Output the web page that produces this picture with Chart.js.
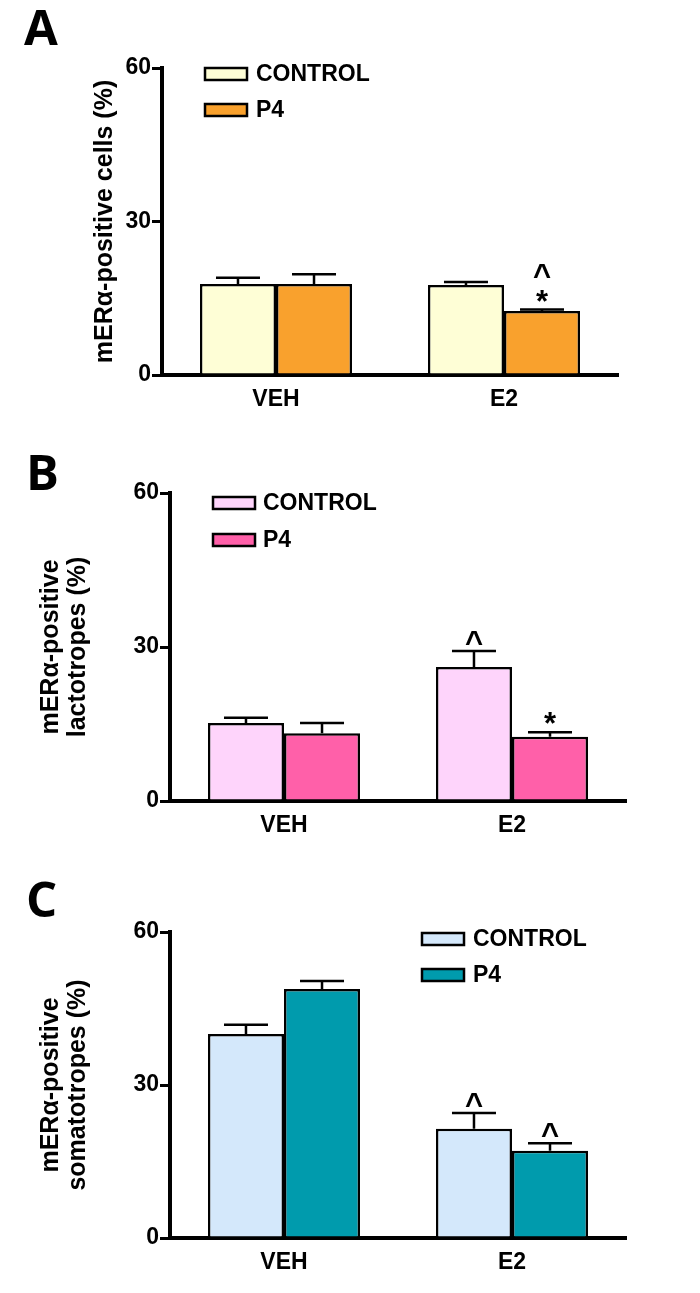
<!DOCTYPE html>
<html><head><meta charset="utf-8">
<script src="https://cdn.jsdelivr.net/npm/chart.js@4.4.1/dist/chart.umd.min.js"></script>
<style>
html,body{margin:0;padding:0;background:#fff;}
#wrap{position:relative;width:700px;height:1293px;background:#fff;}
canvas{position:absolute;left:0;}
</style></head><body>
<div id="wrap">
<canvas id="cA" width="700" height="430" style="top:0px"></canvas>
<canvas id="cB" width="700" height="440" style="top:430px"></canvas>
<canvas id="cC" width="700" height="423" style="top:870px"></canvas>
</div>
<script>
// ---- data ----
const categories = ['VEH', 'E2'];
const seriesLabels = ['CONTROL', 'P4'];
const yTicks = [0, 30, 60];

const controlA = [17.8, 17.6];
const controlErrA = [1.2, 0.6];
const p4A = [17.8, 12.5];
const p4ErrA = [1.9, 0.3];
const controlMarksA = [[], []];
const p4MarksA = [[], ['*', '^']];

const controlB = [15.2, 26.1];
const controlErrB = [1.0, 3.1];
const p4B = [13.2, 12.5];
const p4ErrB = [2.0, 0.9];
const controlMarksB = [[], ['^']];
const p4MarksB = [[], ['*']];

const controlC = [40.0, 21.4];
const controlErrC = [1.8, 3.1];
const p4C = [48.8, 17.1];
const p4ErrC = [1.6, 1.5];
const controlMarksC = [[], ['^']];
const p4MarksC = [[], ['^']];

const titleA = 'mERα-positive cells (%)';
const titleB = ['mERα-positive', 'lactotropes (%)'];
const titleC = ['mERα-positive', 'somatotropes (%)'];

Chart.defaults.font.family = '"Liberation Sans", Arial, sans-serif';
Chart.defaults.color = '#000';

const errorPlugin = {
  id: 'errs',
  afterDatasetsDraw(chart) {
    const ctx = chart.ctx;
    const y = chart.scales.y;
    chart.data.datasets.forEach((ds, i) => {
      const meta = chart.getDatasetMeta(i);
      meta.data.forEach((el, j) => {
        const top = y.getPixelForValue(ds.data[j]);
        const et = y.getPixelForValue(ds.data[j] + ds.errors[j]);
        ctx.save();
        ctx.strokeStyle = '#000';
        ctx.lineWidth = 2.5;
        ctx.beginPath();
        ctx.moveTo(el.x, top);
        ctx.lineTo(el.x, et);
        ctx.moveTo(el.x - 22, et);
        ctx.lineTo(el.x + 22, et);
        ctx.stroke();
        ctx.fillStyle = '#000';
        ctx.font = 'bold 31px "Liberation Sans", Arial, sans-serif';
        ctx.textAlign = 'center';
        ctx.textBaseline = 'alphabetic';
        (ds.marks[j] || []).forEach((m, k) => {
          const c = et - 15 - k * 26;
          ctx.fillText(m, el.x, c + 17);
        });
        ctx.restore();
      });
    });
  }
};

const decorPlugin = {
  id: 'decor',
  afterDraw(chart, args, opts) {
    const ctx = chart.ctx;
    ctx.save();
    ctx.fillStyle = '#000';
    ctx.font = 'bold 49px "Open Sans", "Liberation Sans", sans-serif';
    ctx.textAlign = 'left';
    ctx.textBaseline = 'alphabetic';
    ctx.fillText(opts.letter, opts.letterX, opts.letterY);
    chart.data.datasets.forEach((ds, i) => {
      const bx = opts.legX, by = opts.legY + i * opts.legGap;
      ctx.fillStyle = ds.backgroundColor;
      ctx.fillRect(bx, by, 42, 12);
      ctx.strokeStyle = '#000';
      ctx.lineWidth = 2.5;
      ctx.strokeRect(bx, by, 42, 12);
      ctx.fillStyle = '#000';
      ctx.font = 'bold 23px "Liberation Sans", Arial, sans-serif';
      ctx.textBaseline = 'middle';
      ctx.fillText(ds.label, opts.legTextX, by + 7);
    });
    ctx.restore();
  }
};

function makePanel(id, ctrl, ctrlErr, ctrlMarks, p4, p4Err, p4Marks, colors, title, titlePad, geo, decor) {
  const cv = document.getElementById(id);
  const W = cv.width, H = cv.height, xH = 40;
  new Chart(cv, {
    type: 'bar',
    data: {
      labels: categories,
      datasets: [
        { label: seriesLabels[0], data: ctrl, errors: ctrlErr, marks: ctrlMarks,
          backgroundColor: colors[0], borderColor: '#000', borderWidth: 2.5 },
        { label: seriesLabels[1], data: p4, errors: p4Err, marks: p4Marks,
          backgroundColor: colors[1], borderColor: '#000', borderWidth: 2.5 }
      ]
    },
    options: {
      responsive: false,
      animation: false,
      events: [],
      barPercentage: 1,
      categoryPercentage: 0.667,
      layout: { padding: { left: 0, top: geo.top, right: W - geo.right, bottom: H - geo.bottom - xH } },
      plugins: { legend: { display: false }, tooltip: { enabled: false }, decor: decor },
      scales: {
        x: {
          grid: { display: false },
          border: { display: true, color: '#000', width: 4 },
          ticks: { color: '#000', font: { size: 23, weight: 'bold' }, padding: 3 },
          afterFit(s) { s.height = xH; }
        },
        y: {
          min: 0, max: 60,
          afterBuildTicks(s) { s.ticks = yTicks.map(v => ({ value: v })); },
          grid: { display: true, drawOnChartArea: false, drawTicks: true, tickLength: 10, lineWidth: 3, color: '#000' },
          border: { display: true, color: '#000', width: 4 },
          ticks: { color: '#000', font: { size: 23, weight: 'bold' }, padding: 1 },
          title: { display: true, text: title, color: '#000', align: 'center',
                   font: { size: 25, weight: 'bold', lineHeight: 1.1 }, padding: { top: titlePad, bottom: 0 } },
          afterFit(s) { s.width = geo.left; }
        }
      }
    },
    plugins: [errorPlugin, decorPlugin]
  });
}

makePanel('cA', controlA, controlErrA, controlMarksA, p4A, p4ErrA, p4MarksA,
  ['#FEFED6', '#F9A12D'], titleA, 91,
  { left: 162, top: 68, right: 618, bottom: 375 },
  { letter: 'A', letterX: 24, letterY: 45, legX: 205, legY: 68, legGap: 36, legTextX: 256 });

makePanel('cB', controlB, controlErrB, controlMarksB, p4B, p4ErrB, p4MarksB,
  ['#FED4FB', '#FF60A9'], titleB, 37,
  { left: 170, top: 63, right: 626, bottom: 371 },
  { letter: 'B', letterX: 26, letterY: 60, legX: 213, legY: 67, legGap: 37, legTextX: 263 });

makePanel('cC', controlC, controlErrC, controlMarksC, p4C, p4ErrC, p4MarksC,
  ['#D4E8FB', '#009BAD'], titleC, 37,
  { left: 170, top: 62, right: 626, bottom: 368 },
  { letter: 'C', letterX: 26, letterY: 47, legX: 422, legY: 63, legGap: 36, legTextX: 473 });
</script>
</body></html>
